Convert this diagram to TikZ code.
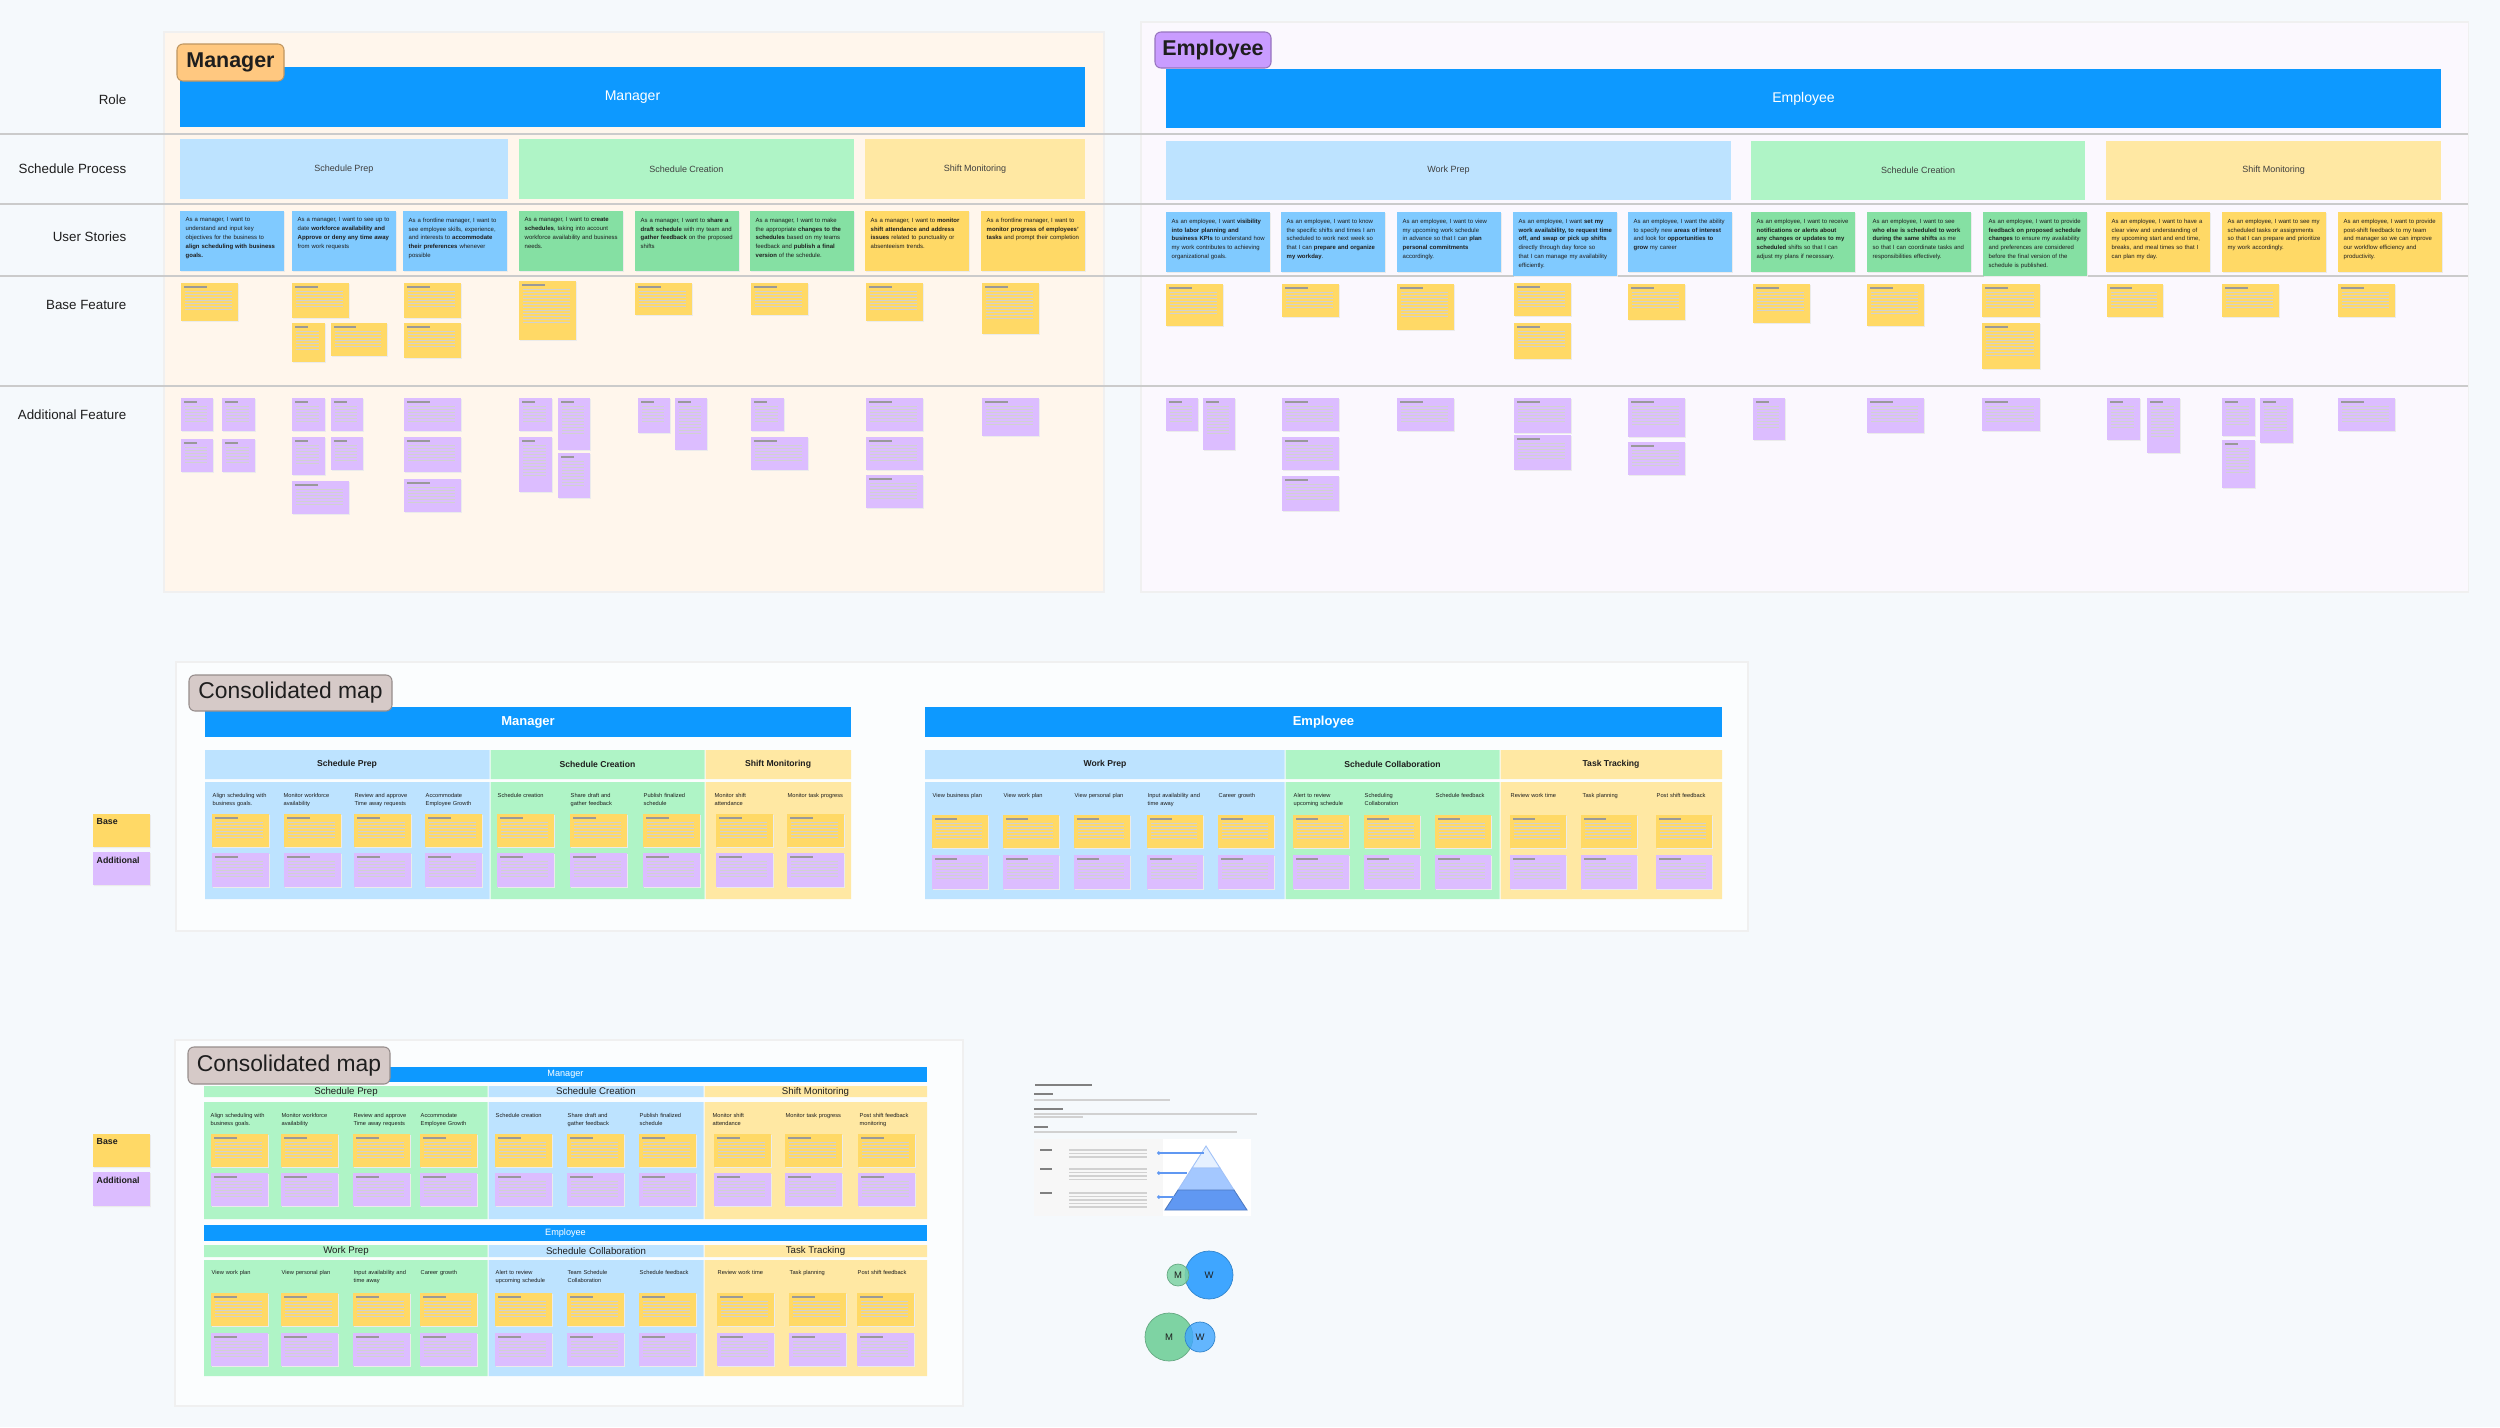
\documentclass[tikz,border=0pt]{standalone}
\usepackage{fontspec}
\setmainfont{Liberation Sans}
\usetikzlibrary{arrows.meta}
\hyphenpenalty=10000
\exhyphenpenalty=10000

\definecolor{canvas}{HTML}{F5F9FC}
\definecolor{barblue}{HTML}{0D99FF}
\definecolor{lblue}{HTML}{BDE3FF}
\definecolor{lgreen}{HTML}{AFF4C6}
\definecolor{lyellow}{HTML}{FFE8A3}
\definecolor{sblue}{HTML}{80CAFF}
\definecolor{sgreen}{HTML}{85E0A3}
\definecolor{syellow}{HTML}{FFD966}
\definecolor{spurple}{HTML}{DCBDFF}
\definecolor{mgrpanel}{HTML}{FFF6EC}
\definecolor{emppanel}{HTML}{FBF8FE}
\definecolor{tagorange}{HTML}{FFC880}
\definecolor{tagpurple}{HTML}{C99CFF}
\definecolor{taggrey}{HTML}{D6CAC8}
\definecolor{rulegrey}{HTML}{CBCBCB}
\definecolor{ink}{HTML}{1E1E1E}
\definecolor{pyrtop}{HTML}{E6F1FF}
\definecolor{pyrmid}{HTML}{A4C8FF}
\definecolor{pyrbot}{HTML}{6098F2}
\definecolor{vgreen}{HTML}{7ED3A3}
\definecolor{vblue}{HTML}{3FA6FF}

\newcommand{\stick}[5]{%
  \fill[black!8] (#1+0.8,#2+1.2) rectangle ++(#3,#4);
  \fill[#5] (#1,#2) rectangle ++(#3,#4);
  \draw[notehead] (#1+3,#2+4) -- ++(#3*0.4,0);
  \pgfmathtruncatemacro\nlast{#4*0.72}
  \foreach \k in {8,11,...,\nlast} \draw[noteline] (#1+4,#2+\k) -- ++(#3-10,0);
}
\newcommand{\story}[6]{%
  \fill[black!8] (#2+0.8,#3+1.2) rectangle ++(104,#4);
  \fill[#5] (#2,#3) rectangle ++(104,#4);
  \node[storytext] (#1) at (#2+5,#3+6) {#6};
}

\begin{document}
\begin{tikzpicture}[
  x=0.1mm, y=-0.1mm,
  wh/.style 2 args={minimum width=#1*0.1mm, minimum height=#2*0.1mm, inner sep=0},
  rowlabel/.style={anchor=east, inner sep=0, text=ink, font=\fontsize{3.8}{4.5}\selectfont},
  tag/.style={rounded corners=0.6mm, line width=0.3pt, text=ink, font=\fontsize{6.1}{7}\selectfont\bfseries},
  cmtag/.style={tag, fill=taggrey, draw=taggrey!70!black, font=\fontsize{6.5}{7.5}\selectfont},
  rolebar/.style={fill=barblue, text=white, font=\fontsize{4}{5}\selectfont},
  proc/.style={text=ink!85, font=\fontsize{2.56}{3}\selectfont},
  storytext/.style={anchor=north west, inner sep=0, text width=9.4mm, align=left, text=ink, font=\fontsize{1.7}{2.55}\selectfont},
  cmbar/.style={fill=barblue, text=white, font=\fontsize{3.7}{4.5}\selectfont\bfseries},
  cmcat/.style={text=ink, font=\fontsize{2.45}{3}\selectfont\bfseries},
  cmbarthin/.style={fill=barblue, text=white, font=\fontsize{2.6}{3}\selectfont},
  cmcatthin/.style={text=ink, font=\fontsize{2.75}{3}\selectfont},
  colhead/.style={anchor=north west, inner sep=0, text width=5.6mm, align=left, text=ink, font=\fontsize{1.62}{2.3}\selectfont},
  legend/.style={anchor=north west, inner sep=0, text=ink, font=\fontsize{2.5}{3}\selectfont\bfseries},
  notehead/.style={black!40, line width=0.3pt},
  noteline/.style={black!18, line width=0.2pt},
  docline/.style={black!18, line width=0.35pt},
  dochead/.style={black!50, line width=0.45pt},
  pyrline/.style={pyrbot, line width=0.3pt, {Circle[length=0.35mm]}-},
  venn/.style={circle, inner sep=0, text=ink, font=\fontsize{2.7}{3}\selectfont}
]
\useasboundingbox (0,0) rectangle (2500,1427);
\fill[canvas] (0,0) rectangle (2500,1427);

% journey map
\filldraw[fill=mgrpanel, draw=black!6, line width=0.3pt] (164,32) rectangle (1104,592);
\filldraw[fill=emppanel, draw=black!6, line width=0.3pt] (1141,22) rectangle (2468,592);
\foreach \y in {134,204,276,386} \draw[rulegrey, line width=0.6pt] (0,\y) -- (2468,\y);

\node[rowlabel] (lrole) at (127,100) {Role};
\node[rowlabel] (lproc) at (127,169) {Schedule Process};
\node[rowlabel] (lstory) at (127,237) {User Stories};
\node[rowlabel] (lbase) at (127,305) {Base Feature};
\node[rowlabel] (ladd) at (127,415) {Additional Feature};

\node[rolebar, wh={905}{60}] (mbar) at (632.5,97) {Manager};
\node[tag, fill=tagorange, draw=tagorange!75!black, wh={107}{37}] (mtag) at (230.5,62.5) {Manager};
\node[rolebar, wh={1275}{59}] (ebar) at (1803.5,98.5) {Employee};
\node[tag, fill=tagpurple, draw=tagpurple!75!black, wh={116}{36}] (etag) at (1213,50) {Employee};

\node[proc, fill=lblue, wh={328}{60}] (mprep) at (344,169) {Schedule Prep};
\node[proc, fill=lgreen, wh={335}{60}] (mcreate) at (686.5,169) {Schedule Creation};
\node[proc, fill=lyellow, wh={220}{60}] (mmon) at (975,169) {Shift Monitoring};
\node[proc, fill=lblue, wh={565}{59}] (eprep) at (1448.5,170.5) {Work Prep};
\node[proc, fill=lgreen, wh={334}{59}] (ecreate) at (1918,170.5) {Schedule Creation};
\node[proc, fill=lyellow, wh={335}{59}] (emon) at (2273.5,170.5) {Shift Monitoring};

\foreach \x/\c/\t [count=\i] in {
  180/sblue/{As a manager, I want to understand and input key objectives for the business to \textbf{align scheduling with business goals.}},
  292/sblue/{As a manager, I want to see up to date \textbf{workforce availability and Approve or deny any time away} from work requests},
  403/sblue/{As a frontline manager, I want to see employee skills, experience, and interests to \textbf{accommodate their preferences} whenever possible},
  519/sgreen/{As a manager, I want to \textbf{create schedules}, taking into account workforce availability and business needs.},
  635/sgreen/{As a manager, I want to \textbf{share a draft schedule} with my team and \textbf{gather feedback} on the proposed shifts},
  750/sgreen/{As a manager, I want to make the appropriate \textbf{changes to the schedules} based on my teams feedback and \textbf{publish a final version} of the schedule.},
  865/syellow/{As a manager, I want to \textbf{monitor shift attendance and address issues} related to punctuality or absenteeism trends.},
  981/syellow/{As a frontline manager, I want to \textbf{monitor progress of employees' tasks} and prompt their completion}}
  \story{ms\i}{\x}{211}{60}{\c}{\t};

\foreach \x/\c/\h/\t [count=\i] in {
  1166/sblue/60/{As an employee, I want \textbf{visibility into labor planning and business KPIs} to understand how my work contributes to achieving organizational goals.},
  1281/sblue/60/{As an employee, I want to know the specific shifts and times I am scheduled to work next week so that I can \textbf{prepare and organize my workday}.},
  1397/sblue/60/{As an employee, I want to view my upcoming work schedule in advance so that I can \textbf{plan personal commitments} accordingly.},
  1513/sblue/64/{As an employee, I want \textbf{set my work availability, to request time off, and swap or pick up shifts} directly through day force so that I can manage my availability efficiently.},
  1628/sblue/60/{As an employee, I want the ability to specify new \textbf{areas of interest} and look for \textbf{opportunities to grow} my career},
  1751/sgreen/60/{As an employee, I want to receive \textbf{notifications or alerts about any changes or updates to my scheduled} shifts so that I can adjust my plans if necessary.},
  1867/sgreen/60/{As an employee, I want to see \textbf{who else is scheduled to work during the same shifts} as me so that I can coordinate tasks and responsibilities effectively.},
  1983/sgreen/64/{As an employee, I want to provide \textbf{feedback on proposed schedule changes} to ensure my availability and preferences are considered before the final version of the schedule is published.},
  2106/syellow/60/{As an employee, I want to have a clear view and understanding of my upcoming start and end time, breaks, and meal times so that I can plan my day.},
  2222/syellow/60/{As an employee, I want to see my scheduled tasks or assignments so that I can prepare and prioritize my work accordingly.},
  2338/syellow/60/{As an employee, I want to provide post-shift feedback to my team and manager so we can improve our workflow efficiency and productivity.}}
  \story{es\i}{\x}{212}{\h}{\c}{\t};

\foreach \x/\y/\w/\h in {181/283/57/38, 292/283/57/35, 404/283/57/35, 519/281/57/59,
  635/283/57/32, 751/283/57/32, 866/283/57/38, 982/283/57/51, 292/323/33/39,
  331/323/56/33, 404/323/57/35,
  1166/284/57/42, 1282/284/57/33, 1397/284/57/46, 1514/283/57/33, 1514/323/57/36,
  1628/284/57/36, 1753/284/57/39, 1867/284/57/42, 1982/284/58/33, 1982/323/58/46,
  2107/284/56/33, 2222/284/57/33, 2338/284/57/33}
  \stick{\x}{\y}{\w}{\h}{syellow};

\foreach \x/\y/\w/\h in {181/398/32/33, 222/398/33/33, 181/439/32/33, 222/439/33/33,
  292/398/33/33, 331/398/32/33, 292/437/33/38, 331/437/32/33, 292/481/57/33,
  404/398/57/33, 404/437/57/35, 404/479/57/33,
  519/398/33/33, 558/398/32/52, 519/437/33/55, 558/453/32/45,
  638/398/32/35, 675/398/32/52, 751/398/33/33, 751/437/57/33,
  866/398/57/33, 866/437/57/33, 866/475/57/33, 982/398/57/38,
  1166/398/32/33, 1203/398/32/52, 1282/398/57/33, 1282/437/57/33, 1282/476/57/35,
  1397/398/57/33, 1514/398/57/35, 1514/435/57/35, 1628/398/57/39, 1628/442/57/33,
  1753/398/32/42, 1867/398/57/35, 1982/398/58/33, 2107/398/33/42, 2147/398/33/55,
  2222/398/33/38, 2260/398/33/45, 2222/440/33/48, 2338/398/57/33}
  \stick{\x}{\y}{\w}{\h}{spurple};

% consolidated map, wide
\filldraw[fill=white!60!canvas, draw=black!6, line width=0.3pt] (176,662) rectangle (1748,931);
\node[cmbar, wh={646}{30}] (c1mbar) at (528,722) {Manager};
\node[cmtag, wh={203}{36}] (c1tag) at (290.5,693) {Consolidated map};
\fill[lblue] (205,750) rectangle (489.5,779) (205,782) rectangle (489.5,899);
\fill[lgreen] (490.5,750) rectangle (704.5,779) (490.5,782) rectangle (704.5,899);
\fill[lyellow] (705.5,750) rectangle (851,779) (705.5,782) rectangle (851,899);
\node[cmcat] (c1mprep) at (347,764.5) {Schedule Prep};
\node[cmcat] (c1mcreate) at (597.5,764.5) {Schedule Creation};
\node[cmcat] (c1mmon) at (778,764.5) {Shift Monitoring};

\node[cmbar, wh={797}{30}] (c1ebar) at (1323.5,722) {Employee};
\fill[lblue] (925,750) rectangle (1284.5,779) (925,782) rectangle (1284.5,899);
\fill[lgreen] (1285.5,750) rectangle (1499.5,779) (1285.5,782) rectangle (1499.5,899);
\fill[lyellow] (1500.5,750) rectangle (1722,779) (1500.5,782) rectangle (1722,899);
\node[cmcat] (c1eprep) at (1105,764.5) {Work Prep};
\node[cmcat] (c1ecollab) at (1392.5,764.5) {Schedule Collaboration};
\node[cmcat] (c1etrack) at (1611,764.5) {Task Tracking};

\foreach \x/\t [count=\i] in {212/{Align scheduling with business goals.},
  283/{Monitor workforce availability}, 354/{Review and approve Time away requests},
  425/{Accommodate Employee Growth}, 497/{Schedule creation},
  570/{Share draft and gather feedback}, 643/{Publish finalized schedule},
  714/{Monitor shift attendance}, 787/{Monitor task progress}}
  \node[colhead] (c1mh\i) at (\x,793) {\t};
\foreach \x/\t [count=\i] in {932/{View business plan}, 1003/{View work plan},
  1074/{View personal plan}, 1147/{Input availability and time away},
  1218/{Career growth}, 1293/{Alert to review upcoming schedule},
  1364/{Scheduling Collaboration}, 1435/{Schedule feedback},
  1510/{Review work time}, 1582/{Task planning}, 1656/{Post shift feedback}}
  \node[colhead] (c1eh\i) at (\x,793) {\t};

\foreach \x in {212,284,354,425,497,570,643,716,787}
  {\stick{\x}{814}{57}{33}{syellow} \stick{\x}{853}{57}{34}{spurple}}
\foreach \x in {932,1003,1074,1147,1218,1293,1364,1435,1510,1581,1656}
  {\stick{\x}{815}{56}{33}{syellow} \stick{\x}{855}{56}{34}{spurple}}

\fill[black!8] (93.8,815.2) rectangle ++(57,33) (93.8,853.2) rectangle ++(57,33);
\fill[syellow] (93,814) rectangle ++(57,33);
\fill[spurple] (93,852) rectangle ++(57,33);
\node[legend] (c1base) at (96,818) {Base};
\node[legend] (c1add) at (96,856) {Additional};

% consolidated map, stacked
\filldraw[fill=white!60!canvas, draw=black!6, line width=0.3pt] (175,1040) rectangle (963,1406);
\node[cmbarthin, wh={723}{15}] (c2mbar) at (565.5,1074.5) {Manager};
\node[cmtag, wh={202}{37}] (c2tag) at (289,1065.5) {Consolidated map};
\fill[lgreen] (204,1086) rectangle (487.5,1097) (204,1102) rectangle (487.5,1219);
\fill[lblue] (488.5,1086) rectangle (703.5,1097) (488.5,1102) rectangle (703.5,1219);
\fill[lyellow] (704.5,1086) rectangle (927,1097) (704.5,1102) rectangle (927,1219);
\node[cmcatthin] (c2mprep) at (346,1091.5) {Schedule Prep};
\node[cmcatthin] (c2mcreate) at (596,1091.5) {Schedule Creation};
\node[cmcatthin] (c2mmon) at (815.5,1091.5) {Shift Monitoring};

\node[cmbarthin, wh={723}{16}] (c2ebar) at (565.5,1233) {Employee};
\fill[lgreen] (204,1245) rectangle (487.5,1257) (204,1260) rectangle (487.5,1376);
\fill[lblue] (488.5,1245) rectangle (703.5,1257) (488.5,1260) rectangle (703.5,1376);
\fill[lyellow] (704.5,1245) rectangle (927,1257) (704.5,1260) rectangle (927,1376);
\node[cmcatthin] (c2eprep) at (346,1251) {Work Prep};
\node[cmcatthin] (c2ecollab) at (596,1251) {Schedule Collaboration};
\node[cmcatthin] (c2etrack) at (815.5,1251) {Task Tracking};

\foreach \x/\t [count=\i] in {210/{Align scheduling with business goals.},
  281/{Monitor workforce availability}, 353/{Review and approve Time away requests},
  420/{Accommodate Employee Growth}, 495/{Schedule creation},
  567/{Share draft and gather feedback}, 639/{Publish finalized schedule},
  712/{Monitor shift attendance}, 785/{Monitor task progress},
  859/{Post shift feedback monitoring}}
  \node[colhead] (c2mh\i) at (\x,1113) {\t};
\foreach \x/\t [count=\i] in {211/{View work plan}, 281/{View personal plan},
  353/{Input availability and time away}, 420/{Career growth},
  495/{Alert to review upcoming schedule}, 567/{Team Schedule Collaboration},
  639/{Schedule feedback}, 717/{Review work time}, 789/{Task planning},
  857/{Post shift feedback}}
  \node[colhead] (c2eh\i) at (\x,1270) {\t};

\foreach \x in {211,281,353,420,495,567,639,714,785,858}
  {\stick{\x}{1134}{57}{33}{syellow} \stick{\x}{1173}{57}{33}{spurple}}
\foreach \x in {211,281,353,420,495,567,639,717,789,857}
  {\stick{\x}{1293}{57}{33}{syellow} \stick{\x}{1333}{57}{33}{spurple}}

\fill[black!8] (93.8,1135.2) rectangle ++(57,33) (93.8,1173.2) rectangle ++(57,34);
\fill[syellow] (93,1134) rectangle ++(57,33);
\fill[spurple] (93,1172) rectangle ++(57,34);
\node[legend] (c2base) at (96,1138) {Base};
\node[legend] (c2add) at (96,1176) {Additional};

% information architecture page
\draw[dochead] (1035,1085) -- (1092,1085);
\draw[dochead] (1034,1094) -- (1053,1094);
\draw[docline] (1034,1100) -- (1170,1100);
\draw[dochead] (1034,1109) -- (1063,1109);
\draw[docline] (1034,1114) -- (1257,1114) (1034,1117) -- (1083,1117);
\draw[dochead] (1034,1127) -- (1048,1127);
\draw[docline] (1034,1132) -- (1237,1132);
\fill[white] (1034,1139) rectangle (1251,1216);
\fill[black!3] (1034,1139) rectangle (1163,1216);
\foreach \y in {1150,1169,1193} \draw[dochead] (1040,\y) -- (1052,\y);
\foreach \y in {1150,1153.5,1157,1169,1172.5,1176,1179.5,1193,1196.5,1200,1203.5,1207}
  \draw[docline] (1069,\y) -- (1147,\y);
\coordinate (apex) at (1206,1146);
\coordinate (l1) at (1192,1168); \coordinate (r1) at (1220,1168);
\coordinate (l2) at (1178,1190); \coordinate (r2) at (1234,1190);
\coordinate (bl) at (1165,1210); \coordinate (br) at (1247,1210);
\filldraw[fill=pyrtop, draw=pyrbot!60, line width=0.25pt] (apex) -- (l1) -- (r1) -- cycle;
\filldraw[fill=pyrmid, draw=pyrbot!60, line width=0.25pt] (l1) -- (l2) -- (r2) -- (r1) -- cycle;
\filldraw[fill=pyrbot, draw=pyrbot!80!black, line width=0.25pt] (l2) -- (bl) -- (br) -- (r2) -- cycle;
\coordinate (p1) at (1157,1153); \coordinate (q1) at (1204,1153);
\coordinate (p2) at (1157,1173); \coordinate (q2) at (1187,1173);
\coordinate (p3) at (1157,1197); \coordinate (q3) at (1175,1197);
\draw[pyrline] (p1) -- (q1);
\draw[pyrline] (p2) -- (q2);
\draw[pyrline] (p3) -- (q3);

% overlap circles
\node[venn, fill=vblue, draw=vblue!80!black, line width=0.2pt, minimum size=4.8mm] (w1) at (1209,1275) {W};
\node[venn, fill=vgreen, fill opacity=0.85, text opacity=1, draw=vgreen!80!black, line width=0.2pt, minimum size=2.2mm] (m1) at (1178,1275) {M};
\node[venn, fill=vgreen, draw=vgreen!80!black, line width=0.2pt, minimum size=4.8mm] (m2) at (1169,1337) {M};
\node[venn, fill=vblue, fill opacity=0.8, text opacity=1, draw=vblue!80!black, line width=0.2pt, minimum size=3mm] (w2) at (1200,1337) {W};
\end{tikzpicture}
\end{document}
